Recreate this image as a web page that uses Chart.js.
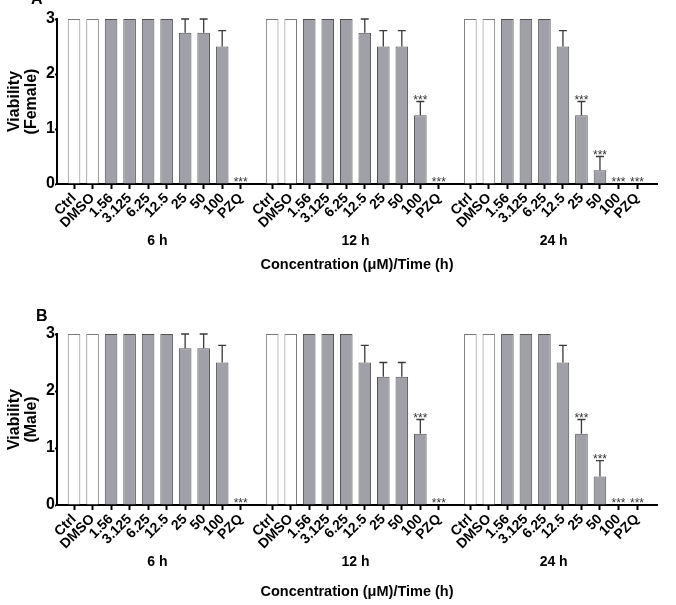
<!DOCTYPE html>
<html>
<head>
<meta charset="utf-8">
<script src="https://cdn.jsdelivr.net/npm/chart.js@4.4.1/dist/chart.umd.min.js"></script>
<style>
  body { margin: 0; background: #fff; }
  #wrap { position: relative; width: 676px; height: 605px; overflow: hidden; }
  #wrap canvas { position: absolute; left: 0; }
  .panel-letter { position: absolute; font: bold 16px 'Liberation Sans', Arial, sans-serif; color: #000; }
</style>
</head>
<body>
<div id="wrap">
  <canvas id="chartA" width="676" height="290" style="top:0"></canvas>
  <canvas id="chartB" width="676" height="315" style="top:290px"></canvas>
  <div class="panel-letter" style="left:31px;top:-10px">A</div>
  <div class="panel-letter" style="left:36px;top:307px">B</div>
</div>
<script>
/* ── Data ─────────────────────────────────────── */
const GROUPS = ['6 h', '12 h', '24 h'];
const CONC = ['Ctrl', 'DMSO', '1.56', '3.125', '6.25', '12.5', '25', '50', '100', 'PZQ'];
const Y_TICKS = [0, 1, 2, 3];

// female viability (mean, upper error, *** flag), 10 bars per time point
const femaleMean = [3, 3, 3, 3, 3, 3, 2.75, 2.75, 2.5, 0,
                    3, 3, 3, 3, 3, 2.75, 2.5, 2.5, 1.25, 0,
                    3, 3, 3, 3, 3, 2.5, 1.25, 0.25, 0, 0];
const femaleErr  = [0, 0, 0, 0, 0, 0, 0.25, 0.25, 0.29, 0,
                    0, 0, 0, 0, 0, 0.25, 0.29, 0.29, 0.25, 0,
                    0, 0, 0, 0, 0, 0.29, 0.25, 0.25, 0, 0];
const femaleSig  = [0, 0, 0, 0, 0, 0, 0, 0, 0, 1,
                    0, 0, 0, 0, 0, 0, 0, 0, 1, 1,
                    0, 0, 0, 0, 0, 0, 1, 1, 1, 1];

// male viability
const maleMean = [3, 3, 3, 3, 3, 3, 2.75, 2.75, 2.5, 0,
                  3, 3, 3, 3, 3, 2.5, 2.25, 2.25, 1.25, 0,
                  3, 3, 3, 3, 3, 2.5, 1.25, 0.5, 0, 0];
const maleErr  = [0, 0, 0, 0, 0, 0, 0.25, 0.25, 0.3, 0,
                  0, 0, 0, 0, 0, 0.3, 0.25, 0.25, 0.25, 0,
                  0, 0, 0, 0, 0, 0.3, 0.25, 0.28, 0, 0];
const maleSig  = [0, 0, 0, 0, 0, 0, 0, 0, 0, 1,
                  0, 0, 0, 0, 0, 0, 0, 0, 1, 1,
                  0, 0, 0, 0, 0, 0, 1, 1, 1, 1];

/* ── Layout helpers ───────────────────────────── */
const FONT = "'Liberation Sans', Arial, sans-serif";
const GROUP_STEP = 10.7;   // bar slots per time point incl. the gap
const xPos = i => Math.floor(i / CONC.length) * GROUP_STEP + (i % CONC.length);
const TICK_POS = femaleMean.map((_, i) => xPos(i));

const GREY = '#a0a0a8';
const isControl = i => (i % CONC.length) < 2;

// error bars, *** marks and time-point labels
const annotate = {
    id: 'annotate',
    afterDraw(chart, args, o) {
        const { ctx, scales: { x, y } } = chart;
        ctx.save();
        ctx.strokeStyle = '#3a3a3a';
        ctx.lineWidth = 1.3;
        o.mean.forEach((m, i) => {
            const px = x.getPixelForValue(xPos(i));
            const topVal = m + o.err[i];
            if (o.err[i] > 0) {
                const y0 = y.getPixelForValue(m);
                const y1 = y.getPixelForValue(topVal);
                ctx.beginPath();
                ctx.moveTo(px, y0); ctx.lineTo(px, y1);
                ctx.moveTo(px - 4, y1); ctx.lineTo(px + 4, y1);
                ctx.stroke();
            }
            if (o.sig[i]) {
                ctx.fillStyle = '#333';
                ctx.font = `12px ${FONT}`;
                ctx.textAlign = 'center';
                ctx.textBaseline = 'alphabetic';
                ctx.fillText('***', px, y.getPixelForValue(topVal) + 2);
            }
        });
        ctx.fillStyle = '#000';
        ctx.font = `bold 14px ${FONT}`;
        ctx.textAlign = 'center';
        ctx.textBaseline = 'middle';
        GROUPS.forEach((g, k) => {
            ctx.fillText(g, x.getPixelForValue(k * GROUP_STEP + (CONC.length - 1) / 2), x.top + 57);
        });
        ctx.restore();
    }
};

function makeChart(id, mean, err, sig, sex, top, xHeight, titlePad) {
    return new Chart(document.getElementById(id), {
        type: 'bar',
        data: {
            datasets: [{
                data: mean.map((m, i) => ({ x: xPos(i), y: m })),
                backgroundColor: mean.map((_, i) => isControl(i) ? '#ffffff' : GREY),
                borderColor: mean.map((_, i) => isControl(i) ? '#7a7a7a' : '#505050'),
                borderWidth: 1,
                barPercentage: 0.68,
                categoryPercentage: 1
            }]
        },
        options: {
            responsive: false,
            animation: false,
            layout: { padding: { top: top, right: 19, left: 0, bottom: 0 } },
            plugins: {
                legend: { display: false },
                tooltip: { enabled: false },
                annotate: { mean, err, sig }
            },
            scales: {
                x: {
                    type: 'linear',
                    min: -0.92,
                    max: 2 * GROUP_STEP + CONC.length - 1 + 1.08,
                    offset: false,
                    afterBuildTicks: s => { s.ticks = TICK_POS.map(v => ({ value: v })); },
                    afterFit: s => { s.height = xHeight; },
                    grid: { drawOnChartArea: false, offset: false, tickLength: 5, tickWidth: 2, tickColor: '#000' },
                    border: { color: '#000', width: 2 },
                    ticks: {
                        autoSkip: false, minRotation: 45, maxRotation: 45, padding: 1,
                        color: '#000', font: { family: FONT, size: 14, weight: 'bold' },
                        callback: (v, i) => CONC[i % CONC.length]
                    },
                    title: {
                        display: true, text: 'Concentration (\u03bcM)/Time (h)', color: '#000',
                        font: { family: FONT, size: 14.5, weight: 'bold' },
                        padding: { top: 0, bottom: titlePad }
                    }
                },
                y: {
                    min: 0, max: 3,
                    afterBuildTicks: s => { s.ticks = Y_TICKS.map(v => ({ value: v })); },
                    afterFit: s => { s.width = 57; },
                    grid: { drawOnChartArea: false, tickLength: 2, tickWidth: 2, tickColor: '#000' },
                    border: { color: '#000', width: 2 },
                    ticks: { padding: 0, color: '#000', font: { family: FONT, size: 16, weight: 'bold' } },
                    title: {
                        display: true, text: ['Viability', `(${sex})`], color: '#000',
                        font: { family: FONT, size: 16, weight: 'bold', lineHeight: 1.06 },
                        padding: { top: 6.5, bottom: 0 }
                    }
                }
            }
        },
        plugins: [annotate]
    });
}

makeChart('chartA', femaleMean, femaleErr, femaleSig, 'Female', 19, 106, 16.3);
makeChart('chartB', maleMean, maleErr, maleSig, 'Male', 44, 100, 4.3);
</script>
</body>
</html>
